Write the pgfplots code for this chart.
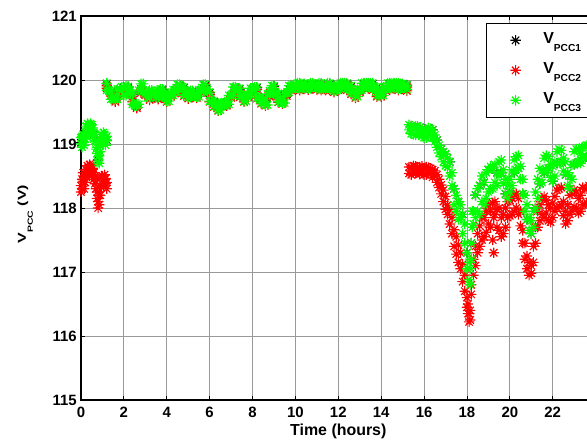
\documentclass[border=0pt]{standalone}
\usepackage{pgfplots}
\pgfplotsset{compat=1.18}
\usepackage{pgfplotstable}
\usepackage{fontspec}
\setmainfont{Liberation Sans}
\definecolor{mgreen}{rgb}{0,1,0}
\definecolor{mred}{rgb}{1,0,0}
\pgfdeclareplotmark{mstar}{%
 \pgfpathmoveto{\pgfqpoint{-\pgfplotmarksize}{0pt}}\pgfpathlineto{\pgfqpoint{\pgfplotmarksize}{0pt}}%
 \pgfpathmoveto{\pgfqpoint{0pt}{-\pgfplotmarksize}}\pgfpathlineto{\pgfqpoint{0pt}{\pgfplotmarksize}}%
 \pgfpathmoveto{\pgfqpoint{-0.707\pgfplotmarksize}{-0.707\pgfplotmarksize}}\pgfpathlineto{\pgfqpoint{0.707\pgfplotmarksize}{0.707\pgfplotmarksize}}%
 \pgfpathmoveto{\pgfqpoint{-0.707\pgfplotmarksize}{0.707\pgfplotmarksize}}\pgfpathlineto{\pgfqpoint{0.707\pgfplotmarksize}{-0.707\pgfplotmarksize}}%
 \pgfusepathqstroke}

% V_PCC3 (green): two samples v, w per time
\pgfplotstableread[row sep=\\]{t v w\\
0.0 119.00 119.10\\ 0.05 119.12 118.95\\ 0.1 119.08 119.15\\ 0.15 118.98 119.10\\ 0.2 119.18 119.08\\ 0.25 119.28 119.12\\ 0.3 119.25 119.32\\ 0.35 119.15 119.30\\ 0.4 119.28 119.20\\ 0.45 119.32 119.18\\ 0.5 119.22 119.30\\ 0.55 119.25 119.12\\ 0.6 119.18 119.08\\ 0.65 119.05 119.15\\ 0.7 119.05 118.92\\ 0.75 118.85 118.95\\ 0.8 118.72 118.80\\ 0.85 118.82 118.70\\ 0.9 118.98 118.88\\ 0.95 119.05 119.15\\ 1.0 119.12 119.02\\ 1.05 119.02 119.18\\ 1.1 119.15 119.08\\ 1.15 119.10 118.98\\ 1.2 119.05 119.12\\
1.2 119.95 119.84\\ 1.3 119.84 119.83\\ 1.4 119.83 119.70\\ 1.5 119.70 119.72\\ 1.6 119.72 119.70\\ 1.7 119.70 119.86\\ 1.8 119.86 119.84\\ 1.9 119.84 119.89\\ 2.0 119.89 119.76\\ 2.1 119.76 119.90\\ 2.2 119.90 119.84\\ 2.3 119.84 119.78\\ 2.4 119.78 119.62\\ 2.5 119.62 119.60\\ 2.6 119.60 119.62\\ 2.7 119.62 119.84\\ 2.8 119.84 119.94\\ 2.9 119.94 119.82\\ 3.0 119.82 119.80\\ 3.1 119.80 119.72\\ 3.2 119.72 119.84\\ 3.3 119.84 119.78\\ 3.4 119.78 119.82\\ 3.5 119.82 119.73\\ 3.6 119.73 119.83\\ 3.7 119.83 119.86\\ 3.8 119.86 119.74\\ 3.9 119.74 119.75\\ 4.0 119.75 119.67\\ 4.1 119.67 119.79\\ 4.2 119.79 119.76\\ 4.3 119.76 119.85\\ 4.4 119.85 119.81\\ 4.5 119.81 119.93\\ 4.6 119.93 119.89\\ 4.7 119.89 119.89\\ 4.8 119.89 119.77\\ 4.9 119.77 119.81\\ 5.0 119.81 119.73\\ 5.1 119.73 119.83\\ 5.2 119.83 119.75\\ 5.3 119.75 119.78\\ 5.4 119.78 119.74\\ 5.5 119.74 119.85\\ 5.6 119.85 119.83\\ 5.7 119.83 119.93\\ 5.8 119.93 119.85\\ 5.9 119.85 119.81\\ 6.0 119.81 119.67\\ 6.1 119.67 119.67\\ 6.2 119.67 119.59\\ 6.3 119.59 119.63\\ 6.4 119.63 119.53\\ 6.5 119.53 119.63\\ 6.6 119.63 119.61\\ 6.7 119.61 119.66\\ 6.8 119.66 119.62\\ 6.9 119.62 119.76\\ 7.0 119.76 119.76\\ 7.1 119.76 119.89\\ 7.2 119.89 119.84\\ 7.3 119.84 119.87\\ 7.4 119.87 119.75\\ 7.5 119.75 119.75\\ 7.6 119.75 119.67\\ 7.7 119.67 119.77\\ 7.8 119.77 119.77\\ 7.9 119.77 119.87\\ 8.0 119.87 119.84\\ 8.1 119.84 119.89\\ 8.2 119.89 119.72\\ 8.3 119.72 119.73\\ 8.4 119.73 119.64\\ 8.5 119.64 119.69\\ 8.6 119.69 119.61\\ 8.7 119.61 119.78\\ 8.8 119.78 119.83\\ 8.9 119.83 119.91\\ 9.0 119.91 119.78\\ 9.1 119.78 119.79\\ 9.2 119.79 119.66\\ 9.3 119.66 119.69\\ 9.4 119.69 119.64\\ 9.5 119.64 119.79\\ 9.6 119.79 119.81\\ 9.7 119.81 119.91\\ 9.8 119.91 119.86\\ 9.9 119.86 119.92\\ 10.0 119.92 119.87\\ 10.1 119.87 119.95\\ 10.2 119.95 119.86\\ 10.3 119.86 119.94\\ 10.4 119.94 119.88\\ 10.5 119.88 119.93\\ 10.6 119.93 119.87\\ 10.7 119.87 119.95\\ 10.8 119.95 119.89\\ 10.9 119.89 119.93\\ 11.0 119.93 119.87\\ 11.1 119.87 119.95\\ 11.2 119.95 119.86\\ 11.3 119.86 119.91\\ 11.4 119.91 119.86\\ 11.5 119.86 119.95\\ 11.6 119.95 119.86\\ 11.7 119.86 119.91\\ 11.8 119.91 119.83\\ 11.9 119.83 119.91\\ 12.0 119.91 119.86\\ 12.1 119.86 119.95\\ 12.2 119.95 119.90\\ 12.3 119.90 119.95\\ 12.4 119.95 119.86\\ 12.5 119.86 119.91\\ 12.6 119.91 119.80\\ 12.7 119.80 119.83\\ 12.8 119.83 119.74\\ 12.9 119.74 119.85\\ 13.0 119.85 119.84\\ 13.1 119.84 119.95\\ 13.2 119.95 119.89\\ 13.3 119.89 119.95\\ 13.4 119.95 119.89\\ 13.5 119.89 119.95\\ 13.6 119.95 119.86\\ 13.7 119.86 119.89\\ 13.8 119.89 119.76\\ 13.9 119.76 119.79\\ 14.0 119.79 119.76\\ 14.1 119.76 119.89\\ 14.2 119.89 119.86\\ 14.3 119.86 119.95\\ 14.4 119.95 119.87\\ 14.5 119.87 119.95\\ 14.6 119.95 119.89\\ 14.7 119.89 119.95\\ 14.8 119.95 119.86\\ 14.9 119.86 119.94\\ 15.0 119.94 119.88\\ 15.1 119.88 119.92\\ 15.2 119.92 119.85\\
15.3 119.22 119.30\\ 15.4 119.28 119.16\\ 15.5 119.15 119.26\\ 15.6 119.27 119.14\\ 15.7 119.18 119.28\\ 15.8 119.26 119.15\\ 15.9 119.12 119.22\\ 16.0 119.20 119.10\\ 16.1 119.10 119.22\\ 16.2 119.25 119.12\\ 16.3 119.12 119.24\\ 16.4 119.22 119.10\\ 16.5 119.04 119.14\\ 16.6 119.06 118.95\\ 16.7 118.86 118.98\\ 16.8 118.92 118.80\\ 16.9 118.72 118.88\\ 17.0 118.84 118.66\\ 17.1 118.64 118.78\\ 17.2 118.72 118.50\\ 17.3 118.35 118.55\\ 17.4 118.30 118.05\\ 17.5 117.95 118.20\\ 17.6 118.10 117.82\\ 17.7 117.85 118.05\\ 17.8 117.90 117.60\\ 17.9 117.45 117.75\\ 18.0 117.30 117.05\\ 18.1 116.88 117.15\\ 18.15 117.05 116.80\\ 18.2 117.45 117.20\\ 18.25 117.70 117.95\\ 18.3 117.95 117.75\\ 18.4 118.20 117.85\\ 18.5 117.95 118.30\\ 18.6 118.35 117.90\\ 18.7 118.10 118.50\\ 18.8 118.40 118.05\\ 18.9 118.15 118.55\\ 19.0 118.60 118.25\\ 19.1 118.30 118.65\\ 19.2 118.62 118.30\\ 19.3 118.40 118.68\\ 19.4 118.55 118.35\\ 19.5 118.72 118.50\\ 19.6 118.55 118.75\\ 19.7 118.60 118.38\\ 19.8 118.22 118.45\\ 19.9 118.35 118.15\\ 20.0 118.25 118.45\\ 20.1 118.58 118.35\\ 20.2 118.55 118.75\\ 20.3 118.80 118.60\\ 20.4 118.62 118.82\\ 20.5 118.65 118.45\\ 20.6 118.22 118.45\\ 20.7 118.20 117.95\\ 20.8 117.82 118.05\\ 20.9 117.85 117.65\\ 21.0 117.60 117.80\\ 21.1 117.95 117.70\\ 21.2 118.00 118.25\\ 21.3 118.45 118.15\\ 21.4 118.38 118.62\\ 21.5 118.58 118.40\\ 21.6 118.55 118.78\\ 21.7 118.82 118.60\\ 21.8 118.62 118.80\\ 21.9 118.68 118.48\\ 22.0 118.42 118.65\\ 22.1 118.72 118.50\\ 22.2 118.70 118.88\\ 22.3 118.92 118.70\\ 22.4 118.72 118.90\\ 22.5 118.78 118.58\\ 22.6 118.52 118.72\\ 22.7 118.55 118.35\\ 22.8 118.30 118.50\\ 22.9 118.68 118.45\\ 23.0 118.68 118.88\\ 23.1 118.92 118.70\\ 23.2 118.72 118.92\\ 23.3 118.85 118.70\\ 23.4 118.78 118.95\\ 23.5 118.96 118.78\\ 23.6 118.80 118.98\\ 23.7 118.98 118.82\\ 23.8 118.84 119.00\\ 23.9 119.00 118.85\\ 24.0 118.88 119.02\\
}\pccthree

% V_PCC2 (red): two samples v, w per time
\pgfplotstableread[row sep=\\]{t v w\\
0.0 118.35 118.25\\ 0.05 118.45 118.30\\ 0.1 118.42 118.55\\ 0.15 118.30 118.48\\ 0.2 118.50 118.40\\ 0.25 118.60 118.48\\ 0.3 118.58 118.66\\ 0.35 118.64 118.52\\ 0.4 118.62 118.68\\ 0.45 118.66 118.56\\ 0.5 118.60 118.50\\ 0.55 118.52 118.62\\ 0.6 118.55 118.45\\ 0.65 118.38 118.50\\ 0.7 118.42 118.30\\ 0.75 118.25 118.15\\ 0.8 118.10 118.00\\ 0.85 118.05 118.20\\ 0.9 118.20 118.35\\ 0.95 118.32 118.48\\ 1.0 118.38 118.50\\ 1.05 118.45 118.35\\ 1.1 118.45 118.52\\ 1.15 118.38 118.46\\ 1.2 118.40 118.30\\
1.2 119.91 119.87\\ 1.4 119.79 119.75\\ 1.6 119.68 119.66\\ 1.8 119.82 119.80\\ 2.0 119.85 119.78\\ 2.2 119.86 119.82\\ 2.4 119.74 119.66\\ 2.6 119.56 119.58\\ 2.8 119.80 119.86\\ 3.0 119.78 119.76\\ 3.2 119.69 119.76\\ 3.4 119.74 119.76\\ 3.6 119.70 119.78\\ 3.8 119.82 119.72\\ 4.0 119.71 119.66\\ 4.2 119.75 119.74\\ 4.4 119.81 119.79\\ 4.6 119.89 119.85\\ 4.8 119.85 119.75\\ 5.0 119.77 119.71\\ 5.2 119.79 119.73\\ 5.4 119.74 119.72\\ 5.6 119.81 119.80\\ 5.8 119.89 119.82\\ 6.0 119.77 119.66\\ 6.2 119.63 119.58\\ 6.4 119.59 119.52\\ 6.6 119.59 119.60\\ 6.8 119.62 119.60\\ 7.0 119.72 119.74\\ 7.2 119.85 119.82\\ 7.4 119.83 119.73\\ 7.6 119.71 119.66\\ 7.8 119.73 119.76\\ 8.0 119.83 119.82\\ 8.2 119.85 119.71\\ 8.4 119.69 119.63\\ 8.6 119.65 119.60\\ 8.8 119.74 119.80\\ 9.0 119.87 119.76\\ 9.2 119.75 119.65\\ 9.4 119.65 119.63\\ 9.6 119.75 119.79\\ 9.8 119.87 119.84\\ 10.0 119.88 119.85\\ 10.2 119.91 119.84\\ 10.4 119.90 119.86\\ 10.6 119.89 119.85\\ 10.8 119.91 119.87\\ 11.0 119.89 119.85\\ 11.2 119.91 119.84\\ 11.4 119.87 119.84\\ 11.6 119.91 119.84\\ 11.8 119.87 119.81\\ 12.0 119.87 119.84\\ 12.2 119.91 119.88\\ 12.4 119.91 119.84\\ 12.6 119.87 119.78\\ 12.8 119.79 119.72\\ 13.0 119.81 119.82\\ 13.2 119.91 119.87\\ 13.4 119.91 119.87\\ 13.6 119.91 119.84\\ 13.8 119.85 119.74\\ 14.0 119.75 119.74\\ 14.2 119.85 119.84\\ 14.4 119.91 119.85\\ 14.6 119.91 119.87\\ 14.8 119.91 119.84\\ 15.0 119.90 119.86\\ 15.2 119.89 119.83\\
15.3 118.54 118.64\\ 15.4 118.64 118.52\\ 15.5 118.55 118.66\\ 15.6 118.65 118.54\\ 15.7 118.56 118.64\\ 15.8 118.64 118.53\\ 15.9 118.55 118.65\\ 16.0 118.62 118.52\\ 16.1 118.52 118.64\\ 16.2 118.63 118.54\\ 16.3 118.54 118.62\\ 16.4 118.60 118.48\\ 16.5 118.50 118.58\\ 16.6 118.52 118.40\\ 16.7 118.32 118.45\\ 16.8 118.36 118.22\\ 16.9 118.10 118.28\\ 17.0 118.18 117.98\\ 17.1 117.90 118.05\\ 17.2 117.98 117.75\\ 17.3 117.60 117.85\\ 17.4 117.66 117.40\\ 17.5 117.28 117.55\\ 17.6 117.42 117.15\\ 17.7 117.05 117.30\\ 17.8 117.12 116.85\\ 17.9 116.70 116.95\\ 18.0 116.60 116.45\\ 18.05 116.35 116.50\\ 18.1 116.22 116.35\\ 18.15 116.40 116.25\\ 18.2 116.65 116.80\\ 18.3 116.95 117.20\\ 18.4 117.40 117.10\\ 18.5 117.30 117.60\\ 18.6 117.72 117.40\\ 18.7 117.50 117.85\\ 18.8 117.85 117.55\\ 18.9 117.62 117.95\\ 19.0 118.05 117.75\\ 19.1 117.70 117.95\\ 19.2 118.08 117.50\\ 19.25 117.30 117.85\\ 19.3 117.90 118.10\\ 19.4 117.98 117.70\\ 19.5 117.65 118.00\\ 19.6 117.85 117.55\\ 19.7 117.60 117.90\\ 19.8 118.00 117.70\\ 19.9 117.85 118.10\\ 20.0 118.12 117.88\\ 20.1 117.90 118.15\\ 20.2 118.20 117.95\\ 20.3 118.00 118.22\\ 20.4 118.15 117.90\\ 20.5 117.72 117.95\\ 20.6 117.65 117.45\\ 20.7 117.20 117.45\\ 20.8 117.25 117.05\\ 20.9 116.95 117.15\\ 21.0 117.10 116.98\\ 21.1 117.15 117.40\\ 21.2 117.70 117.45\\ 21.3 117.70 117.95\\ 21.4 118.05 117.80\\ 21.5 117.90 118.15\\ 21.6 118.18 117.85\\ 21.7 117.92 118.12\\ 21.8 118.05 117.80\\ 21.9 117.78 118.00\\ 22.0 118.08 117.85\\ 22.1 117.95 118.18\\ 22.2 118.28 118.00\\ 22.3 118.02 118.30\\ 22.4 118.32 118.05\\ 22.5 117.88 118.10\\ 22.6 117.95 117.75\\ 22.7 117.80 118.05\\ 22.8 118.20 117.90\\ 22.9 117.95 118.22\\ 23.0 118.28 118.02\\ 23.1 118.00 118.25\\ 23.2 118.15 117.92\\ 23.3 117.95 118.20\\ 23.4 118.32 118.05\\ 23.5 118.05 118.30\\ 23.6 118.30 118.08\\ 23.7 118.10 118.35\\ 23.8 118.38 118.12\\ 23.9 118.15 118.40\\ 24.0 118.35 118.18\\
}\pcctwo

% V_PCC1 (black)
\pgfplotstableread[row sep=\\]{t v\\
0.0 119.02\\ 0.2 119.16\\ 0.4 119.24\\ 0.6 119.15\\ 0.8 118.75\\ 1.0 119.10\\ 1.2 119.06\\
1.2 119.94\\ 1.4 119.82\\ 1.6 119.71\\ 1.8 119.85\\ 2.0 119.88\\ 2.2 119.89\\ 2.4 119.77\\ 2.6 119.59\\ 2.8 119.83\\ 3.0 119.81\\ 3.2 119.71\\ 3.4 119.77\\ 3.6 119.72\\ 3.8 119.85\\ 4.0 119.74\\ 4.2 119.78\\ 4.4 119.84\\ 4.6 119.92\\ 4.8 119.88\\ 5.0 119.80\\ 5.2 119.82\\ 5.4 119.77\\ 5.6 119.84\\ 5.8 119.92\\ 6.0 119.80\\ 6.2 119.66\\ 6.4 119.62\\ 6.6 119.62\\ 6.8 119.65\\ 7.0 119.75\\ 7.2 119.88\\ 7.4 119.86\\ 7.6 119.74\\ 7.8 119.76\\ 8.0 119.86\\ 8.2 119.88\\ 8.4 119.72\\ 8.6 119.68\\ 8.8 119.77\\ 9.0 119.90\\ 9.2 119.78\\ 9.4 119.68\\ 9.6 119.78\\ 9.8 119.90\\ 10.0 119.91\\ 10.2 119.94\\ 10.4 119.93\\ 10.6 119.92\\ 10.8 119.94\\ 11.0 119.92\\ 11.2 119.94\\ 11.4 119.90\\ 11.6 119.94\\ 11.8 119.90\\ 12.0 119.90\\ 12.2 119.94\\ 12.4 119.94\\ 12.6 119.90\\ 12.8 119.82\\ 13.0 119.84\\ 13.2 119.94\\ 13.4 119.94\\ 13.6 119.94\\ 13.8 119.88\\ 14.0 119.78\\ 14.2 119.88\\ 14.4 119.94\\ 14.6 119.94\\ 14.8 119.94\\ 15.0 119.93\\ 15.2 119.92\\
15.4 119.28\\ 15.6 119.27\\ 15.8 119.26\\ 16.0 119.20\\ 16.2 119.25\\ 16.4 119.22\\ 16.6 119.06\\ 16.8 118.92\\ 17.0 118.84\\ 17.2 118.72\\ 17.4 118.30\\ 17.6 118.10\\ 17.8 117.90\\ 18.0 117.30\\ 18.2 117.45\\ 18.4 118.20\\ 18.6 118.35\\ 18.8 118.40\\ 19.0 118.60\\ 19.2 118.62\\ 19.4 118.55\\ 19.6 118.55\\ 19.8 118.22\\ 20.0 118.25\\ 20.2 118.55\\ 20.4 118.62\\ 20.6 118.22\\ 20.8 117.82\\ 21.0 117.60\\ 21.2 118.00\\ 21.4 118.38\\ 21.6 118.55\\ 21.8 118.62\\ 22.0 118.42\\ 22.2 118.70\\ 22.4 118.72\\ 22.6 118.52\\ 22.8 118.30\\ 23.0 118.68\\ 23.2 118.72\\ 23.4 118.78\\ 23.6 118.80\\ 23.8 118.84\\ 24.0 118.88\\
}\pccone

\begin{document}
\begin{tikzpicture}
\begin{axis}[
  at={(0bp,0bp)}, anchor=south west,
  width=514.6bp, height=384bp, scale only axis,
  xmin=0, xmax=24, ymin=115, ymax=121,
  xtick={0,2,...,22}, ytick={115,116,...,121},
  tick align=inside, tick pos=both, major tick length=4bp,
  grid=major, major grid style={color=black!40, line width=0.9bp},
  axis line style={line width=1.3bp},
  every tick/.style={black, line width=0.8bp},
  clip=false,
  /pgf/number format/assume math mode=true,
  ticklabel style={font=\bfseries\fontsize{15}{15}\selectfont, inner sep=0pt},
  xticklabel style={yshift=-7bp},
  yticklabel style={xshift=-4bp},
  xlabel={Time (hours)},
  xlabel style={font=\bfseries\fontsize{16}{16}\selectfont, at={(axis description cs:0.5,0)}, anchor=base, yshift=-35bp, inner sep=0pt},
  ylabel={V\raisebox{-7bp}{\fontsize{7.5}{7.5}\selectfont PCC} (V)},
  ylabel style={font=\bfseries\fontsize{11.5}{11.5}\selectfont, at={(axis description cs:-0.1069,0.484)}, anchor=base, inner sep=0pt, xscale=1.4},
  legend cell align=left,
  legend style={at={(0.787,0.982)}, anchor=north west, draw=black, line width=1.2bp, fill=white,
    inner xsep=6bp, inner ysep=1.8bp, row sep=0bp,
    font=\bfseries\fontsize{16}{16}\selectfont,
    nodes={inner sep=0pt, text height=18.5bp, text depth=11.5bp, text width=45bp, align=left}},
  legend image code/.code={\path[draw=none] (0bp,0bp) -- (50.7bp,0bp); \draw[#1] plot coordinates {(23bp,0bp)};},
  mk/.style={only marks, mark=mstar, mark size=5.2bp, line width=1.15bp},
]
\addplot[mk, color=black] table[x=t,y=v] {\pccone};
\addlegendentry{V\raisebox{-7.4bp}{\fontsize{10.2}{10.2}\selectfont PCC1}}
\addplot[mk, color=mred] table[x=t,y=v] {\pcctwo};
\addlegendentry{V\raisebox{-7.4bp}{\fontsize{10.2}{10.2}\selectfont PCC2}}
\addplot[mk, color=mred, forget plot] table[x=t,y=w] {\pcctwo};
\addplot[mk, color=mgreen] table[x=t,y=v] {\pccthree};
\addlegendentry{V\raisebox{-7.4bp}{\fontsize{10.2}{10.2}\selectfont PCC3}}
\addplot[mk, color=mgreen, forget plot] table[x=t,y=w] {\pccthree};
\end{axis}
\pgfresetboundingbox
\useasboundingbox (-81bp,-40bp) rectangle (506bp,400bp);
\end{tikzpicture}
\end{document}
